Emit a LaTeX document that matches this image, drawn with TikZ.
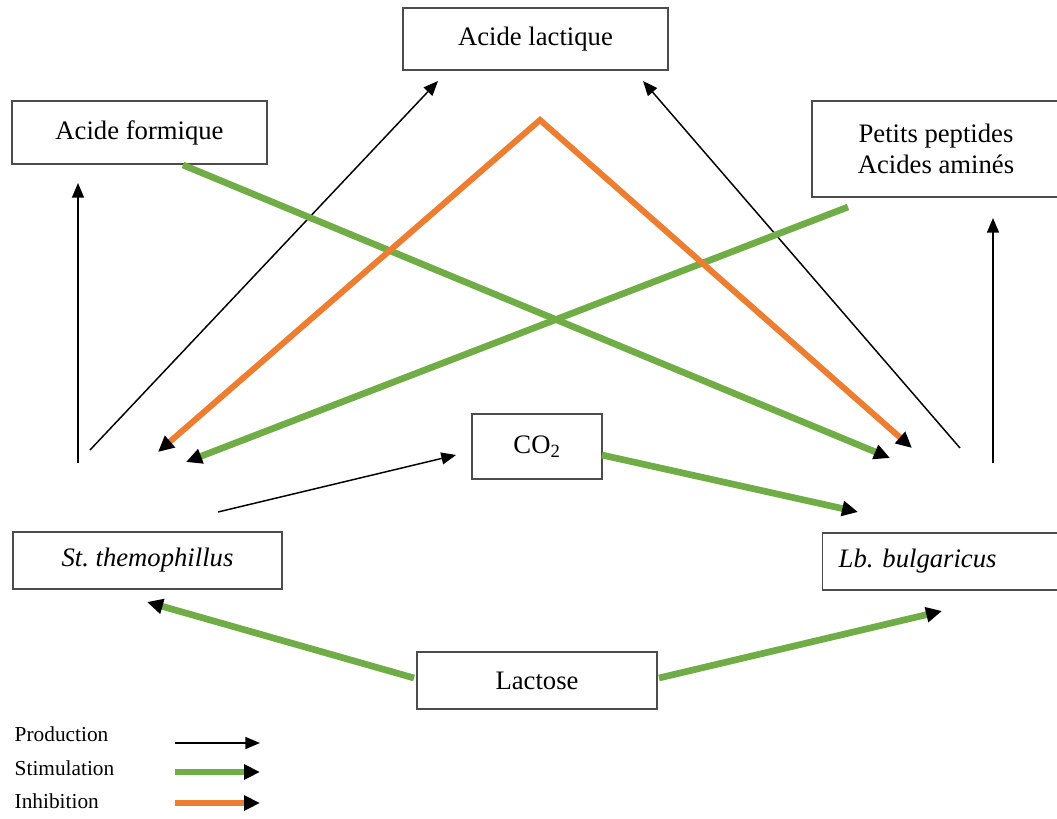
\documentclass[tikz,border=0pt]{standalone}
\usepackage{fontspec}
\setmainfont{Liberation Serif}
\usetikzlibrary{arrows.meta}
\definecolor{StimGreen}{RGB}{112,173,71}
\definecolor{InhibOrange}{RGB}{237,125,49}
\begin{document}
\begin{tikzpicture}[x=0.75pt,y=-0.75pt,
	box/.style={draw=black!70, line width=1.1pt, inner sep=0pt, font=\fontsize{20}{23}\selectfont},
	blacktip/.tip={Triangle[length=12pt,width=11pt,color=black]},
	prod/.style={line width=1.1pt,-{Triangle[length=11pt,width=9pt]}},
	stim/.style={StimGreen,line width=5pt,-blacktip},
	inhib/.style={InhibOrange,line width=4.5pt,blacktip-blacktip},
	legend/.style={anchor=west, font=\fontsize{16}{18}\selectfont}]
	\clip (0,0) rectangle (1057,818); % Fixes the page
	
	\node[box, minimum width=198.75pt, minimum height=46.5pt] (Lactique) at (535.5,39) {Acide lactique};
	\node[box, minimum width=191.25pt, minimum height=47.25pt] (Formique) at (139.5,132.5) {Acide formique};
	\node[box, minimum width=186pt, minimum height=72pt, align=center] (Peptides) at (936,149) {Petits peptides\\Acides amin\'es};
	\node[box, minimum width=97.5pt, minimum height=48.75pt] (COtwo) at (537,446.5) {CO\textsubscript{2}};
	\node[box, minimum width=201.75pt, minimum height=42.75pt] (Strepto) at (147.5,560.5) {\itshape St.\ themophillus};
	\node[box, anchor=west, text width=163.5pt, inner xsep=12pt, minimum height=42.75pt, align=left] (Lacto) at (822,561.5) {\itshape Lb.\ bulgaricus};
	\node[box, minimum width=180pt, minimum height=42.75pt] (Lactose) at (537,680.5) {Lactose};
	
	% production
	\coordinate (StUp)     at (78,463);
	\coordinate (FormIn)   at (78,183);
	\coordinate (StRight)  at (90,450);
	\coordinate (LactInL)  at (438,81);
	\coordinate (StCO)     at (218,512);
	\coordinate (COIn)     at (456,455);
	\coordinate (LbLeft)   at (960,448);
	\coordinate (LactInR)  at (643,81);
	\coordinate (LbUp)     at (993,463);
	\coordinate (PeptIn)   at (993,218);
	\draw [prod] (StUp) -- (FormIn);
	\draw [prod] (StRight) -- (LactInL);
	\draw [prod] (StCO) -- (COIn);
	\draw [prod] (LbLeft) -- (LactInR);
	\draw [prod] (LbUp) -- (PeptIn);
	
	% stimulation
	\coordinate (FormOut)  at (183,165);
	\coordinate (LbInA)    at (890,458);
	\coordinate (PeptOut)  at (848,207);
	\coordinate (StInA)    at (186,462);
	\coordinate (COOut)    at (602,455);
	\coordinate (LbInB)    at (858,512);
	\coordinate (LacOutL)  at (414,678);
	\coordinate (StInB)    at (147,602);
	\coordinate (LacOutR)  at (659,678);
	\coordinate (LbInC)    at (942,611);
	\draw [stim] (FormOut) -- (LbInA);
	\draw [stim] (PeptOut) -- (StInA);
	\draw [stim] (COOut) -- (LbInB);
	\draw [stim] (LacOutL) -- (StInB);
	\draw [stim] (LacOutR) -- (LbInC);
	
	% inhibition
	\coordinate (Apex)     at (540,120);
	\coordinate (StInC)    at (158,452);
	\coordinate (LbInD)    at (912,448);
	\draw [inhib,line join=miter] (StInC) -- (Apex) -- (LbInD);
	
	% legend
	\node[legend] (LegProd) at (10,734) {Production};
	\node[legend] (LegStim) at (10,768) {Stimulation};
	\node[legend] (LegInhib) at (10,801) {Inhibition};
	\coordinate (ProdA) at (175,743);
	\coordinate (ProdB) at (260,743);
	\coordinate (StimA) at (175,772);
	\coordinate (StimB) at (260,772);
	\coordinate (InhA)  at (175,803);
	\coordinate (InhB)  at (260,803);
	\draw [prod] (ProdA) -- (ProdB);
	\draw [stim] (StimA) -- (StimB);
	\draw [InhibOrange,line width=4.5pt,-blacktip] (InhA) -- (InhB);
\end{tikzpicture}
\end{document}
